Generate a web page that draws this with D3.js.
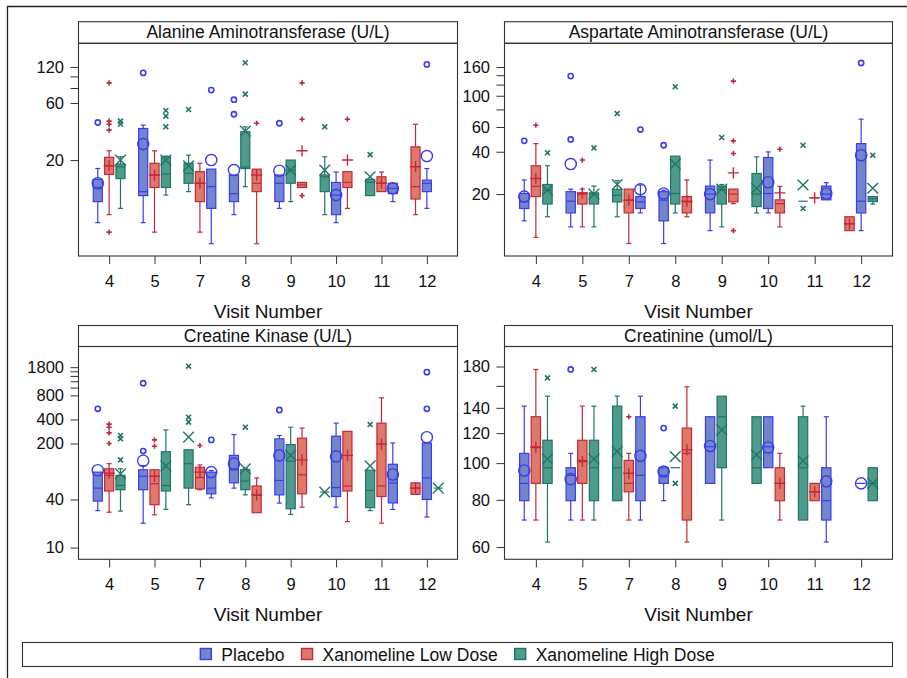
<!DOCTYPE html>
<html>
<head>
<meta charset="utf-8">
<script src="https://cdn.jsdelivr.net/npm/d3@7"></script>
<style>
  body { margin: 0; background: #fff; }
  text { font-family: "Liberation Sans", Arial, sans-serif; fill: #111; }
</style>
</head>
<body>
<div id="chart"></div>
<script>
// Categories
const visits = ["4", "5", "7", "8", "9", "10", "11", "12"];
const groups = ["Placebo", "Xanomeline Low Dose", "Xanomeline High Dose"];
const groupCodes = ["P", "L", "H"];
// cluster order of the groups inside each visit (as SAS laid them out)
const clusterOrder = ["PLH", "PLH", "HLP", "PHL", "PHL", "HPL", "HLP", "LPH"];

// rows: visit, group, low whisker, Q1, median, Q3, high whisker, mean, outliers
const altStats = [
  ["4", "P", 6.0, 9.0, 11.8, 13.8, 17.0, 12.8, [41.2]],
  ["4", "L", 7.0, 15.2, 17.9, 21.1, 23.9, 17.9, [88.3, 42.3, 39.8, 35.6, 5.0]],
  ["4", "H", 7.9, 14.0, 17.6, 18.5, 21.3, 20.0, [42.3, 40.0]],
  ["5", "P", 6.0, 10.1, 10.9, 36.7, 39.2, 27.2, [107]],
  ["5", "L", 5.0, 11.8, 15.0, 18.8, 23.9, 15.0, []],
  ["5", "H", 10.2, 11.8, 15.3, 21.3, 21.6, 20.0, [51.9, 46.6, 37.9]],
  ["7", "H", 10.9, 12.8, 15.5, 18.8, 22.0, 17.9, [52.9]],
  ["7", "L", 5.0, 9.0, 12.8, 16.0, 18.8, 12.8, []],
  ["7", "P", 4.0, 7.9, 12.0, 16.8, 16.8, 20.0, [76.8]],
  ["8", "P", 7.0, 9.0, 10.5, 15.0, 15.0, 16.5, [63.9, 48.3]],
  ["8", "H", 12.0, 17.0, 17.5, 34.5, 37.9, 34.9, [130, 71.1]],
  ["8", "L", 4.0, 10.9, 12.8, 16.8, 16.8, 15.0, [40.6]],
  ["9", "P", 7.9, 9.0, 12.8, 15.0, 15.0, 16.3, [40.6]],
  ["9", "H", 9.0, 12.8, 16.5, 20.0, 20.0, 16.5, []],
  ["9", "L", 11.8, 11.8, 12.4, 13.0, 13.0, 23.9, [88.3, 43.9, 10.1]],
  ["10", "H", 7.0, 10.9, 14.5, 15.0, 21.3, 16.5, [37.9]],
  ["10", "P", 6.0, 7.0, 10.2, 13.0, 15.9, 10.2, []],
  ["10", "L", 7.9, 11.8, 13.0, 16.0, 16.0, 20.0, [43.9]],
  ["11", "H", 10.1, 10.1, 13.0, 13.8, 13.8, 14.5, [22.2]],
  ["11", "L", 10.9, 10.9, 12.8, 14.5, 15.9, 12.8, []],
  ["11", "P", 9.0, 10.5, 11.6, 12.8, 12.8, 11.6, []],
  ["12", "L", 7.0, 9.46, 12.0, 25.8, 39.8, 17.6, []],
  ["12", "P", 7.9, 10.9, 12.8, 13.6, 17.0, 21.6, [126]]
];

const astStats = [
  ["4", "P", 12.9, 15.8, 17.7, 20.2, 25.2, 19.2, [47.8]],
  ["4", "L", 9.85, 19.2, 22.7, 31.8, 45.7, 25.8, [61.7]],
  ["4", "H", 13.8, 17.0, 21.3, 23.4, 31.8, 21.3, [39.3]],
  ["5", "P", 11.7, 14.7, 17.8, 20.8, 21.7, 32.7, [138, 48.9]],
  ["5", "L", 11.7, 17.0, 20.0, 20.4, 21.7, 20.4, [34.9]],
  ["5", "H", 11.7, 17.0, 20.0, 20.4, 22.8, 20.0, [42.6]],
  ["7", "H", 13.8, 17.6, 19.6, 21.6, 24.9, 23.4, [74.7]],
  ["7", "L", 8.9, 14.7, 18.1, 21.7, 21.7, 18.1, []],
  ["7", "P", 14.7, 15.8, 17.6, 19.2, 23.2, 21.6, [57.5]],
  ["8", "P", 8.9, 12.9, 18.1, 20.8, 21.3, 20.2, [44.5]],
  ["8", "H", 14.7, 17.0, 20.2, 37.2, 37.2, 32.7, [116]],
  ["8", "L", 13.8, 14.7, 17.6, 19.2, 25.2, 17.8, []],
  ["9", "P", 11.0, 14.7, 20.0, 22.8, 34.9, 20.0, []],
  ["9", "H", 11.7, 17.0, 21.6, 22.8, 23.4, 21.7, [50.5]],
  ["9", "L", 17.1, 17.6, 20.0, 21.7, 21.7, 28.3, [127, 47.8, 38.9, 11.0]],
  ["10", "H", 14.7, 16.3, 20.0, 28.0, 36.8, 22.0, []],
  ["10", "P", 14.7, 15.8, 20.2, 36.4, 39.9, 24.3, []],
  ["10", "L", 11.7, 14.7, 17.1, 18.2, 22.7, 20.4, [41.7]],
  ["11", "H", 17.8, 17.8, 17.8, 17.8, 17.8, 23.2, [44.5, 15.8]],
  ["11", "L", 18.8, 18.8, 18.8, 18.8, 18.8, 18.8, []],
  ["11", "P", 18.2, 18.2, 20.0, 22.8, 24.1, 20.2, []],
  ["12", "L", 11.0, 11.0, 12.3, 13.8, 13.8, 12.3, []],
  ["12", "P", 11.0, 14.7, 17.8, 45.7, 68.2, 37.8, [171]],
  ["12", "H", 17.0, 17.7, 18.5, 19.2, 19.2, 22.0, [37.8]]
];

const ckStats = [
  ["4", "P", 29.0, 38.1, 55.4, 87.8, 87.8, 92.7, [543]],
  ["4", "L", 27.7, 51.0, 79.8, 96.6, 112, 85, [350, 320, 272, 200]],
  ["4", "H", 28.6, 52.9, 60, 79.8, 96.6, 83.8, [252, 229, 125]],
  ["5", "P", 20.2, 52.9, 77.9, 94, 106, 122, [161, 1136]],
  ["5", "L", 25.7, 34.4, 62.8, 94, 94, 77.9, [222, 185]],
  ["5", "H", 30.0, 51.0, 59.8, 158, 296, 105, []],
  ["7", "H", 34.4, 55.4, 112, 167, 167, 240, [1852, 427, 370]],
  ["7", "L", 52.9, 54.2, 75, 101, 108, 87.8, [189]],
  ["7", "P", 41.9, 47.0, 55.4, 87.8, 92, 87.8, [222]],
  ["8", "P", 55.4, 64.5, 94, 142, 259, 112, []],
  ["8", "H", 45.6, 52.9, 67.8, 94.6, 98, 96.6, [320]],
  ["8", "L", 27.3, 27.3, 45, 58.9, 74.4, 45.6, []],
  ["9", "P", 36, 45.6, 69.1, 229, 252, 142, [525]],
  ["9", "H", 26, 30.6, 120, 194, 320, 142, []],
  ["9", "L", 32, 47, 81.3, 233, 312, 125, []],
  ["10", "H", 49.4, 49.4, 49.4, 49.4, 49.4, 49.4, []],
  ["10", "P", 32, 43.5, 56.3, 247, 359, 138, []],
  ["10", "L", 21.1, 51, 58.9, 284, 284, 142, []],
  ["11", "H", 29, 31.6, 51.8, 92.7, 92.7, 105, [345]],
  ["11", "L", 20.2, 43.5, 58.9, 359, 745, 197, []],
  ["11", "P", 30, 36.2, 64.1, 110, 203, 82, []],
  ["12", "L", 46.3, 46.3, 55.4, 64.5, 64.5, 55.4, []],
  ["12", "P", 24.1, 40, 74.4, 203, 203, 240, [1561, 543]],
  ["12", "H", 55.4, 55.4, 55.4, 55.4, 55.4, 55.4, []]
];

const creatStats = [
  ["4", "P", 70.72, 79.56, 88.4, 106.08, 141.44, 95.6, []],
  ["4", "L", 70.72, 88.4, 110.5, 132.6, 176.8, 110, []],
  ["4", "H", 61.88, 88.4, 97.24, 114.92, 150.28, 102.5, [167.96]],
  ["5", "P", 70.72, 79.56, 92.82, 97.24, 106.08, 90.7, [176.8]],
  ["5", "L", 70.72, 88.4, 101.66, 114.92, 141.44, 101, []],
  ["5", "H", 70.72, 79.56, 97.24, 114.92, 141.44, 102.5, [176.8]],
  ["7", "H", 79.56, 79.56, 97.24, 141.44, 150.28, 107.4, []],
  ["7", "L", 70.72, 83.98, 88.4, 101.66, 106.08, 94, [132.6]],
  ["7", "P", 70.72, 79.56, 92.82, 132.6, 150.28, 104.5, []],
  ["8", "P", 79.56, 88.4, 92.82, 97.24, 97.24, 95, [123.76]],
  ["8", "H", 97.24, 97.24, 97.24, 97.24, 97.24, 104, [141.44, 88.4]],
  ["8", "L", 61.88, 70.72, 106.08, 123.76, 159.12, 108.4, []],
  ["9", "P", 88.4, 88.4, 110.5, 132.6, 132.6, 111, []],
  ["9", "H", 70.72, 97.24, 132.6, 150.28, 150.28, 122.4, []],
  ["10", "H", 88.4, 88.4, 97.24, 132.6, 132.6, 105.2, []],
  ["10", "P", 97.24, 97.24, 110.5, 132.6, 132.6, 110, []],
  ["10", "L", 70.72, 79.56, 88.4, 97.24, 106.08, 88.4, []],
  ["11", "H", 70.72, 70.72, 97.24, 132.6, 141.44, 101.4, []],
  ["11", "L", 79.56, 79.56, 83.98, 88.4, 88.4, 84, []],
  ["11", "P", 61.88, 70.72, 79.56, 97.24, 132.6, 89.5, []],
  ["12", "P", 88.4, 88.4, 88.4, 88.4, 88.4, 88.4, []],
  ["12", "H", 79.56, 79.56, 88.4, 97.24, 97.24, 88.4, []]
];

// axis tick labels, unlabeled minor ticks and axis limits per panel
const altTicks = [20, 60, 120], altMinor = [80, 100], altLimits = [3.16, 189];
const astTicks = [20, 40, 60, 100, 160], astMinor = [80, 120, 140], astLimits = [7.26, 236];
const ckTicks = [10, 40, 200, 400, 800, 1800], ckMinor = [1000, 1200, 1400, 1600], ckLimits = [7.14, 3265];
const creatTicks = [60, 80, 100, 120, 140, 180], creatMinor = [160], creatLimits = [55.7, 203.3];

const titles = ["Alanine Aminotransferase (U/L)", "Aspartate Aminotransferase (U/L)",
                "Creatine Kinase (U/L)", "Creatinine (umol/L)"];

const strokeColor = { P: "#3c3cec", L: "#c4283c", H: "#1f7666" };
const fillColor = { P: "#7186cc", L: "#de7868", H: "#4f9b8b" };

const width = 907, height = 678;
const svg = d3.select("#chart").append("svg")
    .attr("width", width)
    .attr("height", height);

// outer frame (only top and left edges show in the picture)
svg.append("line").attr("x1", 7).attr("x2", width).attr("y1", 6.5).attr("y2", 6.5)
    .attr("stroke", "#222").attr("stroke-width", 1.3);
svg.append("line").attr("x1", 7.5).attr("x2", 7.5).attr("y1", 6).attr("y2", height)
    .attr("stroke", "#222").attr("stroke-width", 1.3);

// panel layout
const cols = [[78.5, 457.5], [504.5, 892.5]];
const rows = [{ hy: 21.7, y0: 43.3, y1: 256 }, { hy: 325.5, y0: 346.5, y1: 559.3 }];

const panels = [
    { title: titles[0], stats: altStats, ticks: altTicks, minor: altMinor, limits: altLimits, col: 0, row: 0 },
    { title: titles[1], stats: astStats, ticks: astTicks, minor: astMinor, limits: astLimits, col: 1, row: 0 },
    { title: titles[2], stats: ckStats, ticks: ckTicks, minor: ckMinor, limits: ckLimits, col: 0, row: 1 },
    { title: titles[3], stats: creatStats, ticks: creatTicks, minor: creatMinor, limits: creatLimits, col: 1, row: 1 }
];

panels.forEach(drawPanel);

function drawPanel(p) {
    const [x0, x1] = cols[p.col];
    const { hy, y0, y1 } = rows[p.row];

    const x = d3.scalePoint().domain(visits).range([x0, x1]).padding(0.675);
    const y = d3.scaleLog().domain(p.limits).range([y1, y0]);
    const step = x.step();
    const bw = step * 0.2;

    const g = svg.append("g");

    // header cell with the parameter name
    g.append("rect")
        .attr("x", x0).attr("y", hy)
        .attr("width", x1 - x0).attr("height", y0 - hy)
        .attr("fill", "#fff").attr("stroke", "#333").attr("stroke-width", 1.1);
    g.append("text")
        .attr("x", (x0 + x1) / 2).attr("y", y0 - 5)
        .attr("text-anchor", "middle")
        .attr("font-size", "17.5px")
        .text(p.title);

    // y axis
    const yAxis = d3.axisLeft(y)
        .tickValues(p.ticks.concat(p.minor))
        .tickSize(8)
        .tickPadding(6.5)
        .tickFormat(d => p.ticks.includes(d) ? d : "");
    const ya = g.append("g").attr("transform", `translate(${x0},0)`).call(yAxis);
    ya.select(".domain").remove();
    ya.selectAll("line").attr("stroke", "#333");
    ya.selectAll("text").attr("font-size", "16.5px").attr("font-family", null).attr("fill", "#111");

    // x axis
    const xAxis = d3.axisBottom(x).tickSize(8).tickPadding(11);
    const xa = g.append("g").attr("transform", `translate(0,${y1})`).call(xAxis);
    xa.select(".domain").remove();
    xa.selectAll("line").attr("stroke", "#333");
    xa.selectAll("text").attr("font-size", "16.5px").attr("font-family", null).attr("fill", "#111");

    g.append("text")
        .attr("x", (x0 + x1) / 2).attr("y", y1 + 62)
        .attr("text-anchor", "middle")
        .attr("font-size", "19px")
        .text("Visit Number");

    // boxes
    p.stats.forEach(r => {
        const [visit, code, lo, q1, med, q3, hi, mean, outliers] = r;
        const vi = visits.indexOf(visit);
        const slot = clusterOrder[vi].indexOf(code) - 1;
        const cx = x(visit) + slot * step * 0.25;
        const sc = strokeColor[code], fc = fillColor[code];
        const bg = g.append("g").attr("class", "box");

        // whiskers with caps
        [[lo, q1], [hi, q3]].forEach(([end, edge]) => {
            if (Math.abs(y(end) - y(edge)) < 0.5) return;
            bg.append("line")
                .attr("x1", cx).attr("x2", cx)
                .attr("y1", y(end)).attr("y2", y(edge))
                .attr("stroke", sc).attr("stroke-width", 1.2);
            bg.append("line")
                .attr("x1", cx - 2.5).attr("x2", cx + 2.5)
                .attr("y1", y(end)).attr("y2", y(end))
                .attr("stroke", sc).attr("stroke-width", 1.2);
        });

        // interquartile box
        bg.append("rect")
            .attr("x", cx - bw / 2).attr("width", bw)
            .attr("y", y(q3)).attr("height", Math.max(0, y(q1) - y(q3)))
            .attr("fill", fc).attr("stroke", sc).attr("stroke-width", 1.2);

        // median
        bg.append("line")
            .attr("x1", cx - bw / 2).attr("x2", cx + bw / 2)
            .attr("y1", y(med)).attr("y2", y(med))
            .attr("stroke", sc).attr("stroke-width", 1.2);

        // mean marker (large)
        drawMarker(bg, code, cx, y(mean), 5.6, sc, 1.4);

        // outliers (small)
        outliers.forEach(v => drawMarker(bg, code, cx, y(v), 2.6, sc, 1.6));
    });

    // plot frame drawn last
    g.append("rect")
        .attr("x", x0).attr("y", y0)
        .attr("width", x1 - x0).attr("height", y1 - y0)
        .attr("fill", "none").attr("stroke", "#333").attr("stroke-width", 1.1);
}

function drawMarker(sel, code, cx, cy, r, color, sw) {
    if (code === "P") {
        sel.append("circle")
            .attr("cx", cx).attr("cy", cy).attr("r", r)
            .attr("fill", "none").attr("stroke", color).attr("stroke-width", sw);
    } else if (code === "L") {
        sel.append("path")
            .attr("d", `M${cx - r},${cy}H${cx + r}M${cx},${cy - r}V${cy + r}`)
            .attr("fill", "none").attr("stroke", color).attr("stroke-width", sw);
    } else {
        const d = r * 0.95;
        sel.append("path")
            .attr("d", `M${cx - d},${cy - d}L${cx + d},${cy + d}M${cx - d},${cy + d}L${cx + d},${cy - d}`)
            .attr("fill", "none").attr("stroke", color).attr("stroke-width", sw);
    }
}

// legend
const legBox = { x0: 22.5, x1: 892.5, y0: 642.5, y1: 666.5 };
svg.append("rect")
    .attr("x", legBox.x0).attr("y", legBox.y0)
    .attr("width", legBox.x1 - legBox.x0).attr("height", legBox.y1 - legBox.y0)
    .attr("fill", "#fff").attr("stroke", "#333").attr("stroke-width", 1.1);

const leg = svg.append("g");
let cursor = 0;
groups.forEach((name, i) => {
    const code = groupCodes[i];
    const it = leg.append("g");
    it.append("rect")
        .attr("x", cursor).attr("y", 648.5).attr("width", 11).attr("height", 11)
        .attr("fill", fillColor[code]).attr("stroke", strokeColor[code]).attr("stroke-width", 1.4);
    const t = it.append("text")
        .attr("x", cursor + 21).attr("y", 660.5)
        .attr("font-size", "17.5px")
        .text(name);
    cursor += 21 + t.node().getComputedTextLength() + 17;
});
const legWidth = cursor - 17;
leg.attr("transform", `translate(${(legBox.x0 + legBox.x1) / 2 - legWidth / 2},0)`);
</script>
</body>
</html>
